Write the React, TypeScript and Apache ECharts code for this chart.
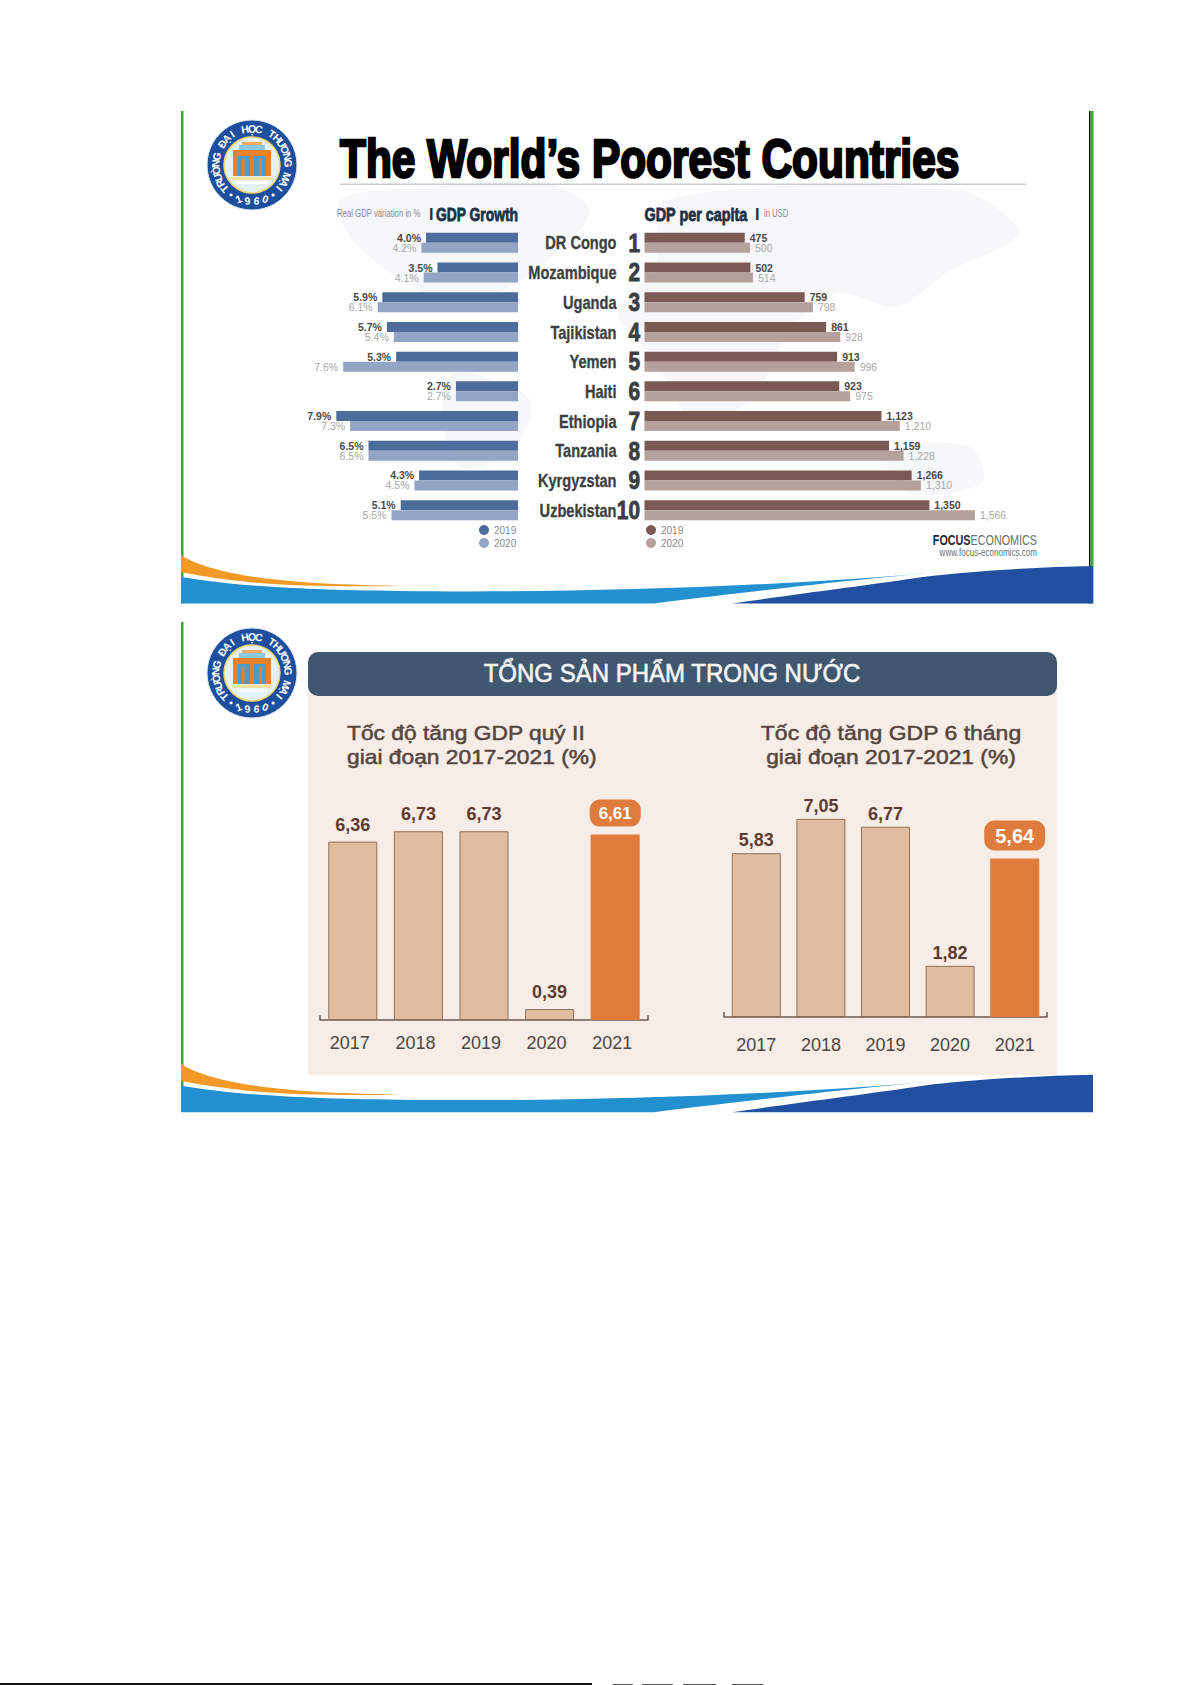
import React, { useEffect, useRef } from "react";
import * as echarts from "echarts";

const countries = ["DR Congo", "Mozambique", "Uganda", "Tajikistan", "Yemen", "Haiti", "Ethiopia", "Tanzania", "Kyrgyzstan", "Uzbekistan"];
const ranks = ["1", "2", "3", "4", "5", "6", "7", "8", "9", "10"];
const growth2019 = [4.0, 3.5, 5.9, 5.7, 5.3, 2.7, 7.9, 6.5, 4.3, 5.1];
const growth2020 = [4.2, 4.1, 6.1, 5.4, 7.6, 2.7, 7.3, 6.5, 4.5, 5.5];
const gdp2019 = [475, 502, 759, 861, 913, 923, 1123, 1159, 1266, 1350];
const gdp2020 = [500, 514, 798, 928, 996, 975, 1210, 1228, 1310, 1566];
const years = ["2017", "2018", "2019", "2020", "2021"];
const quarterII = [6.36, 6.73, 6.73, 0.39, 6.61];
const sixMonths = [5.83, 7.05, 6.77, 1.82, 5.64];
const legendYears = ["2019", "2020"];

const SANS = '"Liberation Sans", Arial, sans-serif';
const RING_TOP = "TRƯỜNG ĐẠI HỌC THƯƠNG MẠI";
const RING_BOTTOM = "•1960•";

const ORANGE_D = "M181 555 C195 565 225 573 262 578 C310 584 360 585 402 586 C340 587 280 586 240 581 C215 578 195 575 181 572 Z";
const LIGHT_D = "M181 577 C230 585 290 590 400 591 C560 593 760 588 941 572 C870 578 780 588 654 603.5 L181 603.5 Z";
const DARK_D = "M732 603.5 C790 595 870 585 923 577 C970 571 1040 567 1093 566 L1093 603.5 Z";
echarts.graphic.registerShape("swooshOrange", echarts.graphic.extendPath(ORANGE_D, {}));
echarts.graphic.registerShape("swooshLight", echarts.graphic.extendPath(LIGHT_D, {}));
echarts.graphic.registerShape("swooshDark", echarts.graphic.extendPath(DARK_D, {}));

function rect(x: number, y: number, width: number, height: number, fill: string, r = 0, z = -1) {
  return { type: "rect", z, shape: { x, y, width, height, r }, style: { fill } };
}
function txt(x: number, y: number, text: string, size: number, fill: string, extra: any = {}, scaleX = 1) {
  const { fontWeight, align, stroke, lineWidth } = extra;
  return {
    type: "text", z: 1, x, y, scaleX,
    style: { text, fontFamily: SANS, fontSize: size, fill, fontWeight: fontWeight || "normal", align: align || "left", verticalAlign: "middle", stroke, lineWidth: lineWidth || 0 },
  };
}
function ribbon(dy: number) {
  return [
    { type: "swooshOrange", z: -1, x: 0, y: dy, style: { fill: "#f39a26" } },
    { type: "swooshLight", z: -1, x: 0, y: dy, style: { fill: "#2390cf" } },
    { type: "swooshDark", z: -1, x: 0, y: dy, style: { fill: "#2150a3" } },
  ];
}
function logo(cx: number, cy: number) {
  const out: any[] = [
    { type: "circle", z: -1, shape: { cx, cy, r: 45 }, style: { fill: "#1d4f9e", stroke: "#dfe8f2", lineWidth: 1 } },
    { type: "circle", z: -1, shape: { cx, cy, r: 28 }, style: { fill: "#e4f1f8", stroke: "#f0d56a", lineWidth: 1.5 } },
    rect(cx - 10, cy - 23, 20, 3, "#f4a860"),
    rect(cx - 13, cy - 20, 26, 5, "#8cc7e6"),
    rect(cx - 19, cy - 15, 38, 26, "#e8802c"),
    rect(cx - 14, cy - 9, 12, 20, "#4d9bc9"),
    rect(cx + 2, cy - 9, 12, 20, "#4d9bc9"),
    rect(cx - 10, cy - 6, 2.5, 17, "#e8802c"),
    rect(cx + 7.5, cy - 6, 2.5, 17, "#e8802c"),
    rect(cx - 20, cy + 12, 40, 3, "#f4e3a0"),
    rect(cx - 15, cy + 16, 30, 3, "#ffffff"),
  ];
  const step = (262 / (RING_TOP.length - 1)) * Math.PI / 180;
  Array.from(RING_TOP).forEach((ch, i) => {
    const t = -131 * Math.PI / 180 + i * step;
    out.push({
      type: "text", z: 1, x: cx + 36.5 * Math.sin(t), y: cy - 36.5 * Math.cos(t), rotation: -t,
      style: { text: ch, fontFamily: SANS, fontSize: 10.5, fontWeight: "bold", fill: "#ffffff", align: "center", verticalAlign: "middle" },
    });
  });
  Array.from(RING_BOTTOM).forEach((ch, i) => {
    const a = (36 - i * 14.4) * Math.PI / 180;
    out.push({
      type: "text", z: 1, x: cx - 36.5 * Math.sin(a), y: cy + 36.5 * Math.cos(a), rotation: a,
      style: { text: ch, fontFamily: SANS, fontSize: 10.5, fontWeight: "bold", fill: "#ffffff", align: "center", verticalAlign: "middle" },
    });
  });
  return out;
}
function map() {
  const lands = [
    [[430,187],[545,183],[590,210],[560,250],[510,287],[460,307],[412,287],[352,240],[340,200]],
    [[455,373],[530,400],[510,453],[460,467],[443,417]],
    [[667,200],[958,190],[1018,233],[946,273],[897,307],[837,293],[788,333],[752,400],[691,417],[655,360],[618,313],[655,267]],
    [[885,450],[970,447],[982,483],[909,493]],
  ];
  return lands.map((points) => ({ type: "polygon", z: -1, shape: { points, smooth: 0.3 }, style: { fill: "#f6f7f8" } }));
}

function hbarSeries(name: string, values: number[], idx: number, color: string, labelColor: string, weight: string, position: string, fmt: (v: number) => string) {
  return {
    type: "bar", name, xAxisIndex: idx, yAxisIndex: idx, data: values, barWidth: 10, barGap: 0,
    itemStyle: { color },
    label: { show: true, position, distance: 5, fontFamily: SANS, fontSize: 10.5, fontWeight: weight, color: labelColor, formatter: (p: any) => fmt(p.value) },
  };
}
function countryLabels() {
  const ink = "#3b3f42";
  return {
    type: "custom", xAxisIndex: 1, yAxisIndex: 1, silent: true, encode: { x: 0, y: 1 },
    data: countries.map((_, i) => [0, i]),
    renderItem: (params: any, api: any) => {
      const p = api.coord([0, api.value(1)]);
      const common = { fontFamily: SANS, fontWeight: "bold", fill: ink, align: "right", verticalAlign: "middle", stroke: ink };
      return {
        type: "group",
        children: [
          { type: "text", x: p[0] - 28, y: p[1], scaleX: 0.81, style: { ...common, text: countries[params.dataIndex], fontSize: 18, lineWidth: 0.3 } },
          { type: "text", x: p[0] - 4.5, y: p[1], scaleX: 0.8, style: { ...common, text: ranks[params.dataIndex], fontSize: 26, lineWidth: 0.9 } },
        ],
      };
    },
  };
}
function vbarSeries(values: number[], idx: number, dist: number, pillSize: number, pillPad: number[]) {
  return {
    type: "bar", xAxisIndex: idx, yAxisIndex: idx, barWidth: 49,
    data: values.map((value, i) => i === values.length - 1
      ? { value, itemStyle: { color: "#e07b3a", borderWidth: 0 },
          label: { color: "#fff", fontSize: pillSize, backgroundColor: "#df7b3c", borderRadius: 10, padding: pillPad, distance: 8 } }
      : { value }),
    itemStyle: { color: "#e1bd9f", borderColor: "#8d7059", borderWidth: 1 },
    label: { show: true, position: "top", distance: dist, fontFamily: SANS, fontSize: 18, fontWeight: "bold", color: "#5f3a30", formatter: (p: any) => p.value.toFixed(2).replace(".", ",") },
  };
}
function hCatAxis(idx: number) {
  return {
    type: "category", gridIndex: idx, data: countries, inverse: true,
    axisLine: { show: false }, axisTick: { show: false }, axisLabel: { show: false },
  };
}
function vCatAxis(idx: number, margin: number, padding: number[]) {
  return {
    type: "category", gridIndex: idx, data: years,
    axisLine: { show: true, lineStyle: { color: "#6b5a50", width: 1.5 } },
    axisTick: { show: true, inside: true, length: 5, interval: (i: number) => i === 0, lineStyle: { color: "#6b5a50", width: 1.5 } },
    axisLabel: { margin, padding, fontFamily: SANS, fontSize: 18, color: "#4a4644" },
  };
}
function legendAt(left: number, first: string, second: string) {
  return {
    left, top: 525, orient: "vertical", icon: "circle", itemWidth: 10, itemHeight: 10, itemGap: 3, selectedMode: false, padding: 0,
    textStyle: { fontFamily: SANS, fontSize: 10, color: "#8a8a8a" },
    data: [
      { name: legendYears[0], itemStyle: { color: first } },
      { name: legendYears[1], itemStyle: { color: second } },
    ],
  };
}

export default function App() {
  const ref = useRef<HTMLDivElement>(null);
  useEffect(() => {
    document.body.style.margin = "0";
    const chart = echarts.init(ref.current!, undefined, { renderer: "svg" });
    const soft = { stroke: "#55453f", lineWidth: 0.5 };
    chart.setOption({
      animation: false,
      backgroundColor: "#ffffff",
      grid: [
        { left: 334, top: 228, width: 184, height: 297 },
        { left: 644.5, top: 228, width: 337.6, height: 297 },
        { left: 320, top: 795.6, width: 328, height: 224.4 },
        { left: 724, top: 792.2, width: 323, height: 224.8 },
      ],
      legend: [legendAt(479, "#4d6c9b", "#93a5c5"), legendAt(646, "#7b5a55", "#b5a09c")],
      xAxis: [
        { type: "value", gridIndex: 0, inverse: true, min: 0, max: 8, show: false },
        { type: "value", gridIndex: 1, min: 0, max: 1600, show: false },
        vCatAxis(2, 14, [0, 6, 0, 0]),
        vCatAxis(3, 19, [0, 0, 0, 0]),
      ],
      yAxis: [
        hCatAxis(0),
        hCatAxis(1),
        { type: "value", gridIndex: 2, min: 0, max: 8, show: false },
        { type: "value", gridIndex: 3, min: 0, max: 8, show: false },
      ],
      series: [
        hbarSeries("2019", growth2019, 0, "#4d6c9b", "#4a4a4a", "bold", "left", (v) => v.toFixed(1) + "%"),
        hbarSeries("2020", growth2020, 0, "#93a5c5", "#a8a8a8", "normal", "left", (v) => v.toFixed(1) + "%"),
        hbarSeries("2019", gdp2019, 1, "#7b5a55", "#4a4a4a", "bold", "right", (v) => v.toLocaleString("en-US")),
        hbarSeries("2020", gdp2020, 1, "#b5a09c", "#a8a8a8", "normal", "right", (v) => v.toLocaleString("en-US")),
        countryLabels(),
        vbarSeries(quarterII, 2, 8, 17, [5, 9]),
        vbarSeries(sixMonths, 3, 4, 20, [5, 11]),
      ],
      graphic: { elements: [
        ...map(),
        rect(181, 111, 2.5, 492.5, "#3ea53a"),
        rect(1089, 111, 1.5, 492.5, "#111111"),
        rect(1090.5, 111, 3, 492.5, "#3ea53a"),
        ...ribbon(0),
        rect(181, 622, 2.5, 490, "#3ea53a"),
        ...ribbon(508.7),
        ...logo(252, 165),
        ...logo(252, 673),
        txt(340, 158, "The World’s Poorest Countries", 54, "#000000", { fontWeight: "bold", stroke: "#000000", lineWidth: 2.6 }, 0.785),
        rect(340, 183.5, 686, 1.5, "#c9cbce"),
        txt(337, 214, "Real GDP variation in %", 10.5, "#8a8a8a", {}, 0.74),
        txt(429, 214, "I", 16, "#1c3246", { fontWeight: "bold" }),
        txt(518, 214, "GDP Growth", 18, "#1c3246", { fontWeight: "bold", align: "right", stroke: "#1c3246", lineWidth: 0.8 }, 0.77),
        txt(644.5, 214, "GDP per capita", 18, "#1c3246", { fontWeight: "bold", stroke: "#1c3246", lineWidth: 0.8 }, 0.8),
        txt(755, 214, "I", 16, "#1c3246", { fontWeight: "bold" }),
        txt(764, 214, "in USD", 10.5, "#8a8a8a", {}, 0.73),
        {
          type: "text", z: 1, x: 1037, y: 541, scaleX: 0.77,
          style: {
            text: "{a|FOCUS}{b|ECONOMICS}", align: "right", verticalAlign: "middle",
            rich: {
              a: { fontFamily: SANS, fontSize: 14, fontWeight: "bold", fill: "#222a33" },
              b: { fontFamily: SANS, fontSize: 14, fill: "#6b7075" },
            },
          },
        },
        txt(1037, 553, "www.focus-economics.com", 10.5, "#6b7075", { align: "right" }, 0.77),
        rect(308, 685, 749, 390, "#f8ede6"),
        rect(308, 652, 749, 44, "#3f5870", 10),
        txt(672, 673, "TỔNG SẢN PHẨM TRONG NƯỚC", 25, "#f4f4f2", { align: "center", stroke: "#f4f4f2", lineWidth: 0.6 }, 0.96),
        txt(347, 733, "Tốc độ tăng GDP quý II", 20, "#55453f", soft, 1.14),
        txt(347, 757, "giai đoạn 2017-2021 (%)", 20, "#55453f", soft, 1.14),
        txt(891, 733, "Tốc độ tăng GDP 6 tháng", 20, "#55453f", { align: "center", ...soft }, 1.15),
        txt(891, 757, "giai đoạn 2017-2021 (%)", 20, "#55453f", { align: "center", ...soft }, 1.14),
        rect(0, 1683, 592, 2, "#111111"),
        rect(613, 1684, 20, 1, "#555555"),
        rect(642, 1684, 31, 1, "#555555"),
        rect(683, 1684, 33, 1, "#555555"),
        rect(732, 1684, 31, 1, "#555555"),
      ] },
    });
    return () => chart.dispose();
  }, []);
  return <div ref={ref} style={{ position: "absolute", left: 0, top: 0, width: 1191, height: 1685 }} />;
}
